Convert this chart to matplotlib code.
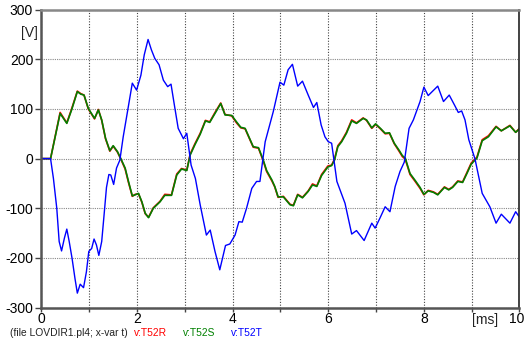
import matplotlib
matplotlib.use('Agg')
import matplotlib.pyplot as plt
import matplotlib.transforms as mtransforms

plt.rcParams['font.family'] = ['Liberation Sans', 'DejaVu Sans']

# time [ms] and voltages [V]
t_rs = [0.0, 0.19, 0.39, 0.53, 0.63, 0.75, 0.82, 0.89, 0.98, 1.11, 1.19, 1.26, 1.34,
        1.43, 1.50, 1.59, 1.66, 1.75, 1.82, 1.90, 1.96, 2.03, 2.10, 2.17, 2.24, 2.34,
        2.48, 2.58, 2.72, 2.83, 2.93, 3.04, 3.11, 3.21, 3.32, 3.43, 3.52, 3.63, 3.75,
        3.84, 3.98, 4.08, 4.17, 4.26, 4.43, 4.54, 4.64, 4.71, 4.82, 4.88, 4.95, 5.06,
        5.20, 5.27, 5.36, 5.46, 5.58, 5.67, 5.76, 5.86, 5.99, 6.07, 6.13, 6.20, 6.28,
        6.38, 6.49, 6.59, 6.73, 6.80, 6.91, 6.99, 7.10, 7.19, 7.28, 7.38, 7.48, 7.55,
        7.61, 7.71, 7.81, 7.92, 8.00, 8.09, 8.20, 8.29, 8.43, 8.52, 8.60, 8.71, 8.81,
        8.90, 8.99, 9.11, 9.22, 9.35, 9.51, 9.62, 9.80, 9.92, 10.0]
v_s = [0, 0, 91, 71, 98, 135, 130, 128, 101, 81, 98, 78, 41,
       16, 26, 14, 0, -19, -46, -75, -73, -70, -87, -110, -119, -100,
       -87, -74, -74, -33, -21, -24, 7, 28, 49, 76, 73, 91, 111,
       88, 87, 74, 63, 61, 24, 22, -3, -24, -43, -56, -77, -77,
       -93, -95, -73, -79, -66, -53, -56, -34, -17, -14, -3, 24, 34,
       51, 76, 71, 81, 78, 62, 70, 60, 51, 52, 31, 17, 6,
       1, -30, -43, -58, -72, -65, -68, -73, -58, -63, -58, -46, -48,
       -30, -11, 1, 36, 44, 64, 56, 66, 53, 60]
v_r = [0, 0, 93, 72, 100, 136, 131, 128, 100, 80, 99, 77, 40,
       15, 25, 13, -1, -21, -48, -76, -72, -71, -88, -111, -118, -99,
       -86, -72, -73, -31, -20, -23, 9, 30, 51, 77, 74, 93, 112,
       89, 86, 72, 62, 60, 23, 21, -5, -26, -45, -57, -78, -76,
       -92, -94, -72, -78, -65, -51, -55, -32, -15, -13, -1, 26, 36,
       53, 78, 72, 82, 77, 61, 69, 59, 50, 51, 30, 15, 4,
       -1, -32, -45, -60, -73, -64, -67, -72, -57, -62, -57, -45, -47,
       -28, -9, 3, 38, 46, 65, 56, 67, 53, 61]

t_t = [0.0, 0.19, 0.25, 0.32, 0.37, 0.42, 0.48, 0.53, 0.58, 0.64, 0.70, 0.75, 0.81,
       0.88, 0.94, 0.99, 1.05, 1.10, 1.15, 1.20, 1.26, 1.31, 1.36, 1.41, 1.45, 1.51,
       1.57, 1.64, 1.71, 1.80, 1.90, 1.99, 2.08, 2.15, 2.23, 2.30, 2.37, 2.46, 2.55,
       2.64, 2.71, 2.78, 2.86, 2.97, 3.04, 3.13, 3.22, 3.32, 3.45, 3.53, 3.63, 3.73,
       3.85, 3.94, 4.05, 4.13, 4.20, 4.29, 4.40, 4.50, 4.57, 4.68, 4.85, 4.99, 5.07,
       5.16, 5.25, 5.36, 5.46, 5.58, 5.69, 5.76, 5.85, 5.93, 6.00, 6.07, 6.18, 6.35,
       6.49, 6.59, 6.75, 6.91, 6.98, 7.08, 7.19, 7.29, 7.40, 7.50, 7.59, 7.69, 7.78,
       7.92, 8.00, 8.09, 8.29, 8.41, 8.53, 8.64, 8.72, 8.79, 8.86, 8.94, 9.07, 9.22,
       9.38, 9.51, 9.62, 9.80, 9.92, 10.0]
v_t = [0, 0, -40, -100, -167, -186, -160, -142, -167, -201, -241, -271, -253,
       -260, -228, -187, -181, -162, -174, -195, -167, -113, -58, -32, -33, -52,
       -19, -3, 44, 95, 152, 138, 168, 209, 240, 219, 202, 189, 158,
       145, 150, 108, 61, 40, 51, -13, -40, -93, -154, -144, -187, -224,
       -175, -172, -154, -127, -128, -100, -60, -46, -46, 34, 95, 154, 148,
       179, 190, 146, 156, 128, 103, 113, 68, 44, 34, 31, -46, -90,
       -152, -145, -165, -130, -140, -120, -97, -107, -56, -26, -7, 61, 78,
       115, 144, 127, 146, 115, 128, 108, 93, 96, 78, 38, -1, -70,
       -97, -130, -112, -130, -107, -118]

fig = plt.figure(figsize=(5.25, 3.4), dpi=100)
ax = fig.add_axes([0.079, 0.0955, 0.9105, 0.876])

ax.plot(t_rs, v_r, color='#ff0000', lw=1.2)
ax.plot(t_rs, v_s, color='#008000', lw=1.2)
ax.plot(t_t, v_t, color='#0000ff', lw=1.0)

ax.set_xlim(0, 10)
ax.set_ylim(-300, 300)
ax.set_xticks(range(0, 11))
ax.set_xticklabels(['0', '', '2', '', '4', '', '6', '', '8', '', '10'])
ax.set_yticks(range(-300, 301, 100))
ax.set_yticklabels(['-300', '-200', '-100', '0', '100', '200', '300'])
ax.tick_params(labelsize=10, length=4, width=1, color='#444444', pad=2)
ax.tick_params(axis='x', length=3, pad=0.5)

# keep the "10" inside the picture
last = ax.get_xticklabels()[-1]
last.set_transform(last.get_transform() +
                   mtransforms.ScaledTranslation(-3 / 100, 0, fig.dpi_scale_trans))

ax.xaxis.grid(True, color='#444444', linestyle=(0, (1, 1.5)), lw=0.8)
ax.yaxis.grid(True, color='#888888', linestyle=(0, (1, 1)), lw=0.8)

for side in ['left', 'bottom']:
    ax.spines[side].set_color('#555555')
    ax.spines[side].set_linewidth(1.8)
ax.spines['top'].set_color('#888888')
ax.spines['top'].set_linewidth(1.8)
ax.spines['right'].set_color('#222222')
ax.spines['right'].set_linewidth(1.2)

fig.text(0.057, 0.902, '[V]', fontsize=10, ha='center', va='center', color='#222222')
fig.text(0.924, 0.058, '[ms]', fontsize=10, ha='center', va='center', color='#222222')

fig.text(0.019, 0.021, '(file LOVDIR1.pl4; x-var t)', fontsize=7.4, va='center', color='#222222')
fig.text(0.255, 0.021, 'v:T52R', fontsize=7.4, va='center', color='#ff0000')
fig.text(0.349, 0.021, 'v:T52S', fontsize=7.4, va='center', color='#008000')
fig.text(0.440, 0.021, 'v:T52T', fontsize=7.4, va='center', color='#0000ff')

fig.savefig('out.png', dpi=100)
